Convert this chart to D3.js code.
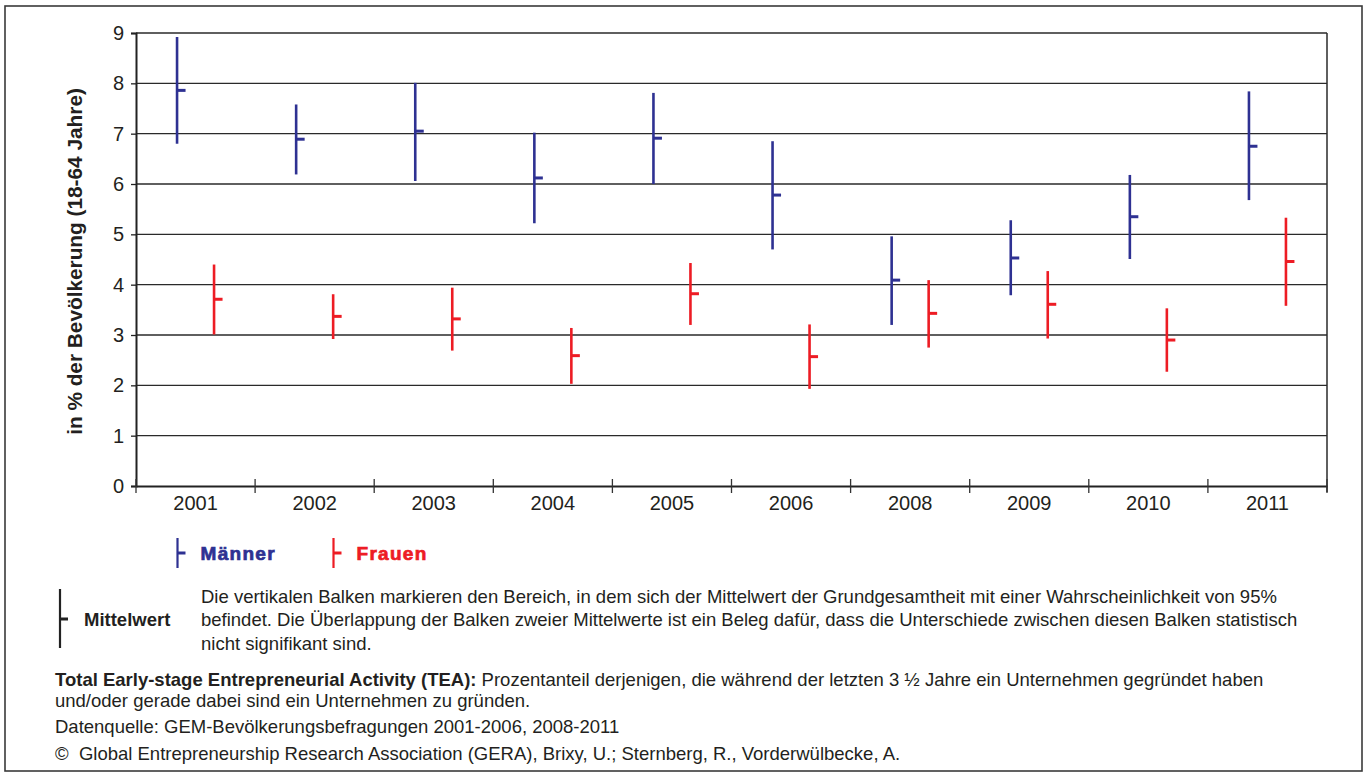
<!DOCTYPE html>
<html>
<head>
<meta charset="utf-8">
<script src="https://cdn.jsdelivr.net/npm/d3@7"></script>
<style>
  html, body { margin: 0; padding: 0; background: #fff; }
  svg { display: block; font-family: "Liberation Sans", Arial, Helvetica, sans-serif; }
</style>
</head>
<body>
<svg id="chart" width="1366" height="775"></svg>
<script>
// ---- Data ----
const years = ["2001", "2002", "2003", "2004", "2005", "2006", "2008", "2009", "2010", "2011"];
const menHigh = [8.92, 7.58, 8.01, 7.02, 7.81, 6.85, 4.96, 5.28, 6.18, 7.84];
const menMean = [7.86, 6.89, 7.05, 6.12, 6.91, 5.78, 4.09, 4.53, 5.35, 6.75];
const menLow = [6.80, 6.19, 6.06, 5.22, 6.00, 4.70, 3.20, 3.79, 4.51, 5.68];
const womenHigh = [4.40, 3.81, 3.94, 3.14, 4.43, 3.21, 4.09, 4.27, 3.53, 5.33];
const womenMean = [3.71, 3.37, 3.32, 2.59, 3.82, 2.57, 3.43, 3.61, 2.90, 4.46];
const womenLow = [3.01, 2.92, 2.69, 2.03, 3.20, 1.93, 2.75, 2.93, 2.27, 3.58];
const yTicks = [0, 1, 2, 3, 4, 5, 6, 7, 8, 9];
const seriesNames = ["Männer", "Frauen"];
const seriesColors = ["#2E3192", "#ED1C24"];
const yTitle = "in % der Bevölkerung (18-64 Jahre)";

const series = [
  { name: seriesNames[0], color: seriesColors[0], high: menHigh, mean: menMean, low: menLow },
  { name: seriesNames[1], color: seriesColors[1], high: womenHigh, mean: womenMean, low: womenLow }
];

// ---- Layout ----
const svg = d3.select("#chart");
const W = 1366, H = 775;
const plot = { left: 136, right: 1327, top: 33, bottom: 486 };
const textColor = "#231F20";
const bodySize = 18.5;

svg.append("rect").attr("width", W).attr("height", H).attr("fill", "#fff");
// outer frame
svg.append("rect")
  .attr("x", 5).attr("y", 6).attr("width", 1357).attr("height", 765)
  .attr("fill", "none").attr("stroke", "#3a3a3a").attr("stroke-width", 1.6);

const x = d3.scaleBand().domain(years).range([plot.left, plot.right]).padding(0);
const inner = d3.scalePoint().domain(seriesNames).range([-18.5, 18.5]);
const y = d3.scaleLinear().domain([0, 9]).range([plot.bottom, plot.top]);

// gridlines
svg.append("g").selectAll("line").data(yTicks.filter(d => d > 0)).join("line")
  .attr("x1", plot.left).attr("x2", plot.right)
  .attr("y1", d => y(d)).attr("y2", d => y(d))
  .attr("stroke", "#2a2a2a").attr("stroke-width", 1.3);

// right frame of plot
svg.append("line")
  .attr("x1", plot.right).attr("x2", plot.right)
  .attr("y1", plot.top).attr("y2", plot.bottom + 6)
  .attr("stroke", "#2a2a2a").attr("stroke-width", 1.5);

// y axis
const yAxis = svg.append("g")
  .attr("transform", `translate(${plot.left},0)`)
  .call(d3.axisLeft(y).tickValues(yTicks).tickSize(5).tickPadding(7).tickFormat(d3.format("d")));
yAxis.select(".domain").attr("stroke", "#222").attr("stroke-width", 2);
yAxis.selectAll(".tick line").attr("stroke", "#222").attr("stroke-width", 1.3);
yAxis.selectAll(".tick text")
  .attr("font-family", "'Liberation Sans', Arial, sans-serif")
  .attr("font-size", 20).attr("fill", textColor);

// x axis
const xAxis = svg.append("g")
  .attr("transform", `translate(0,${plot.bottom})`)
  .call(d3.axisBottom(x).tickSize(0).tickPadding(10));
xAxis.select(".domain").attr("stroke", "#222").attr("stroke-width", 2);
xAxis.selectAll(".tick text")
  .attr("font-family", "'Liberation Sans', Arial, sans-serif")
  .attr("font-size", 20).attr("fill", textColor);
// category boundary ticks (crossing the axis)
const bounds = years.map(d => x(d)).concat([x(years[years.length - 1]) + x.bandwidth()]);
svg.append("g").selectAll("line").data(bounds).join("line")
  .attr("x1", d => d).attr("x2", d => d)
  .attr("y1", plot.bottom - 7).attr("y2", plot.bottom + 7)
  .attr("stroke", "#333").attr("stroke-width", 1.3);

// y axis title
svg.append("text")
  .attr("transform", `translate(82,${(plot.top + plot.bottom) / 2 + 2}) rotate(-90)`)
  .attr("text-anchor", "middle")
  .attr("font-size", 20.8).attr("font-weight", "bold").attr("fill", textColor)
  .text(yTitle);

// hi-lo-mean marks
const marks = svg.append("g");
series.forEach(s => {
  const g = marks.append("g");
  const cx = (d, i) => x(years[i]) + x.bandwidth() / 2 + inner(s.name);
  g.selectAll("line.range").data(years).join("line").attr("class", "range")
    .attr("x1", cx).attr("x2", cx)
    .attr("y1", (d, i) => y(s.high[i])).attr("y2", (d, i) => y(s.low[i]))
    .attr("stroke", s.color).attr("stroke-width", 2.6);
  g.selectAll("line.mean").data(years).join("line").attr("class", "mean")
    .attr("x1", cx).attr("x2", (d, i) => cx(d, i) + 8.5)
    .attr("y1", (d, i) => y(s.mean[i])).attr("y2", (d, i) => y(s.mean[i]))
    .attr("stroke", s.color).attr("stroke-width", 3);
});

// legend
const legendX = [177.5, 333.5];
const legend = svg.append("g");
series.forEach((s, i) => {
  const lx = legendX[i];
  legend.append("line").attr("x1", lx).attr("x2", lx).attr("y1", 538).attr("y2", 568)
    .attr("stroke", s.color).attr("stroke-width", 2.2);
  legend.append("line").attr("x1", lx).attr("x2", lx + 8).attr("y1", 553).attr("y2", 553)
    .attr("stroke", s.color).attr("stroke-width", 3);
  legend.append("text").attr("x", lx + 23).attr("y", 559.5)
    .attr("font-size", 19).attr("font-weight", "bold")
    .attr("fill", s.color).attr("stroke", s.color).attr("stroke-width", 0.7)
    .attr("letter-spacing", 1.3)
    .text(s.name);
});

// Mittelwert explanation
svg.append("line").attr("x1", 60).attr("x2", 60).attr("y1", 589).attr("y2", 648)
  .attr("stroke", "#222").attr("stroke-width", 2.2);
svg.append("line").attr("x1", 60).attr("x2", 68).attr("y1", 619).attr("y2", 619)
  .attr("stroke", "#222").attr("stroke-width", 3);
svg.append("text").attr("x", 84).attr("y", 626)
  .attr("font-size", bodySize).attr("font-weight", "bold").attr("fill", textColor)
  .text("Mittelwert");

const expl = [
  "Die vertikalen Balken markieren den Bereich, in dem sich der Mittelwert der Grundgesamtheit mit einer Wahrscheinlichkeit von 95%",
  "befindet. Die Überlappung der Balken zweier Mittelwerte ist ein Beleg dafür, dass die Unterschiede zwischen diesen Balken statistisch",
  "nicht signifikant sind."
];
svg.append("g").selectAll("text").data(expl).join("text")
  .attr("x", 201).attr("y", (d, i) => 602.5 + i * 23.5)
  .attr("font-size", bodySize).attr("fill", textColor)
  .text(d => d);

// TEA definition
const tea = svg.append("text").attr("x", 55).attr("y", 685.5).attr("font-size", bodySize).attr("fill", textColor);
tea.append("tspan").attr("font-weight", "bold").text("Total Early-stage Entrepreneurial Activity (TEA):");
tea.append("tspan").text(" Prozentanteil derjenigen, die während der letzten 3 ½ Jahre ein Unternehmen gegründet haben");
svg.append("text").attr("x", 55).attr("y", 706.5).attr("font-size", bodySize).attr("fill", textColor)
  .text("und/oder gerade dabei sind ein Unternehmen zu gründen.");
svg.append("text").attr("x", 55).attr("y", 733).attr("font-size", bodySize).attr("fill", textColor)
  .text("Datenquelle: GEM-Bevölkerungsbefragungen 2001-2006, 2008-2011");
svg.append("text").attr("x", 55).attr("y", 760).attr("font-size", bodySize).attr("fill", textColor)
  .attr("xml:space", "preserve")
  .text("©  Global Entrepreneurship Research Association (GERA), Brixy, U.; Sternberg, R., Vorderwülbecke, A.");
</script>
</body>
</html>
